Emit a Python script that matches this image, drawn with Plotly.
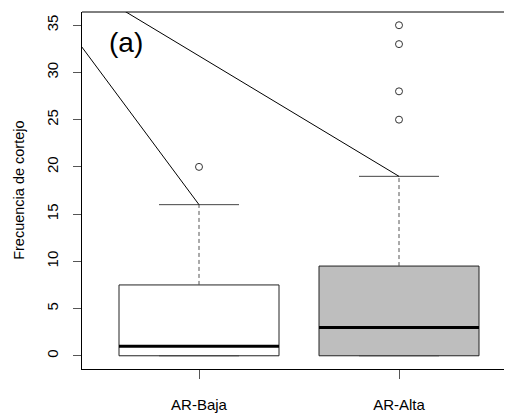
import plotly.graph_objects as go

# ---- data ----
categories = ["AR-Baja", "AR-Alta"]
positions = [1, 2]
q1 = [0, 0]
median = [1, 3]
q3 = [7.5, 9.5]
lower_whisker = [0, 0]
upper_whisker = [16, 19]
outliers_baja = [20]
outliers_alta = [25, 28, 33, 35]
box_fill = ["white", "#bebebe"]
y_ticks = [0, 5, 10, 15, 20, 25, 30, 35]
line_origin = (0, 44.5)

BOX_W = 0.8
CAP_W = 0.4
FONT = "Liberation Sans, Arial, sans-serif"

fig = go.Figure()

for i, pos in enumerate(positions):
    l, r = pos - BOX_W / 2, pos + BOX_W / 2
    cl, cr = pos - CAP_W / 2, pos + CAP_W / 2
    # box
    fig.add_trace(go.Scatter(
        x=[l, r, r, l, l], y=[q1[i], q1[i], q3[i], q3[i], q1[i]],
        mode="lines", fill="toself", fillcolor=box_fill[i],
        line=dict(color="#222222", width=1), hoverinfo="skip", showlegend=False))
    # whiskers (dashed)
    fig.add_trace(go.Scatter(
        x=[pos, pos, None, pos, pos], y=[q3[i], upper_whisker[i], None, q1[i], lower_whisker[i]],
        mode="lines", line=dict(color="#555555", width=1, dash="4px,3px"),
        hoverinfo="skip", showlegend=False))
    # caps
    fig.add_trace(go.Scatter(
        x=[cl, cr, None, cl, cr], y=[upper_whisker[i], upper_whisker[i], None, lower_whisker[i], lower_whisker[i]],
        mode="lines", line=dict(color="#444444", width=1),
        hoverinfo="skip", showlegend=False))
    # median
    fig.add_trace(go.Scatter(
        x=[l, r], y=[median[i], median[i]], mode="lines",
        line=dict(color="black", width=3), hoverinfo="skip", showlegend=False))

# outliers
ox = [positions[0]] * len(outliers_baja) + [positions[1]] * len(outliers_alta)
oy = outliers_baja + outliers_alta
fig.add_trace(go.Scatter(
    x=ox, y=oy, mode="markers",
    marker=dict(symbol="circle-open", size=7, color="#333333", line=dict(width=1)),
    hoverinfo="skip", showlegend=False))

# lines from a common origin to whisker tops
for i, pos in enumerate(positions):
    fig.add_trace(go.Scatter(
        x=[line_origin[0], pos], y=[line_origin[1], upper_whisker[i]],
        mode="lines", line=dict(color="black", width=1),
        hoverinfo="skip", showlegend=False))

fig.update_layout(
    width=504, height=405,
    margin=dict(l=74, r=0, t=4, b=44),
    paper_bgcolor="white", plot_bgcolor="white",
    font=dict(family=FONT, size=15, color="black"),
    xaxis=dict(range=[0.415, 2.565], tickvals=positions, ticktext=categories,
               showgrid=False, zeroline=False, showline=True, linecolor="black", linewidth=1,
               ticks="outside", ticklen=9, tickcolor="#555555", tickfont=dict(size=15),
               ticklabelstandoff=13),
    yaxis=dict(range=[-1.4, 36.4], tickvals=y_ticks, showgrid=False, zeroline=False,
               showline=True, linecolor="black", linewidth=1,
               ticks="outside", ticklen=8, tickcolor="#555555", tickangle=-90,
               tickfont=dict(size=15), ticklabelstandoff=9),
    shapes=[dict(type="line", xref="paper", yref="paper", x0=0, x1=1, y0=1, y1=1,
                 line=dict(color="black", width=1))],
    annotations=[
        dict(text="Frecuencia de cortejo", xref="paper", yref="paper", x=-0.148, y=0.5,
             textangle=-90, showarrow=False, xanchor="center", yanchor="middle",
             font=dict(size=14.5)),
        dict(text="(a)", xref="x", yref="y", x=0.635, y=33.2, showarrow=False,
             xanchor="center", yanchor="middle", font=dict(size=28)),
    ],
)

fig.write_html("out.html")
